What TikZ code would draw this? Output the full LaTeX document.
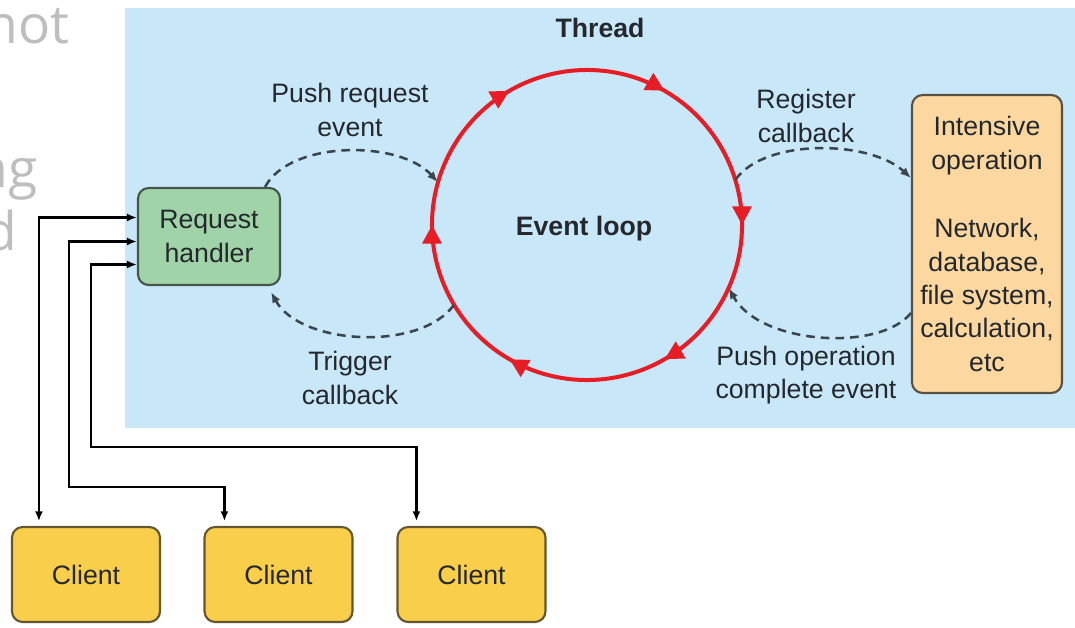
\documentclass[tikz,border=0pt]{standalone}
\usepackage{fontspec}
\setmainfont{Liberation Sans}
\newfontfamily\slidefont{Open Sans}
\usetikzlibrary{arrows.meta,decorations.markings,calc}

\definecolor{threadbg}{RGB}{200,232,250}
\definecolor{handlerfill}{RGB}{160,212,168}
\definecolor{handlerline}{RGB}{70,84,74}
\definecolor{opfill}{RGB}{252,216,160}
\definecolor{opline}{RGB}{88,80,66}
\definecolor{clientfill}{RGB}{248,206,74}
\definecolor{clientline}{RGB}{100,86,48}
\definecolor{loopred}{RGB}{232,28,36}
\definecolor{ink}{RGB}{36,40,44}
\definecolor{flowgray}{RGB}{60,68,76}
\definecolor{slidegray}{RGB}{190,190,190}

\newcommand\lblfont{\fontsize{20}{25}\selectfont}
\newcommand\looptip{\arrow{Triangle[length=14pt,width=14pt,color=loopred]}}

\begin{document}
\begin{tikzpicture}[x=0.75pt,y=-0.75pt,
  block/.style={rounded corners=8pt, line width=1.6pt, align=center,
    inner sep=0pt, font=\lblfont, text=ink},
  handlerbox/.style={block, fill=handlerfill, draw=handlerline,
    minimum width=106.5pt, minimum height=72.75pt},
  opbox/.style={block, fill=opfill, draw=opline,
    minimum width=112.5pt, minimum height=223.5pt},
  clientbox/.style={block, fill=clientfill, draw=clientline,
    minimum width=111pt, minimum height=71.25pt},
  lbl/.style={font=\lblfont, text=ink, align=center, inner sep=0pt},
  flow/.style={draw=flowgray, line width=1.9pt, dash pattern=on 6.5pt off 4.5pt,
    -{Latex[length=8pt,width=6.5pt]}},
  link/.style={draw=black, line width=1.9pt,
    {Latex[length=7.5pt,width=6pt]}-{Latex[length=7.5pt,width=6pt]}, shorten >=3.5pt},
  loopline/.style={draw=loopred, line width=3pt, postaction={decorate},
    decoration={markings,
      mark=at position 0.0833 with {\looptip},
      mark=at position 0.25 with {\looptip},
      mark=at position 0.4167 with {\looptip},
      mark=at position 0.5833 with {\looptip},
      mark=at position 0.75 with {\looptip},
      mark=at position 0.9167 with {\looptip}}},
  slide/.style={font=\slidefont\fontsize{40}{48}\selectfont, text=slidegray, inner sep=0pt}
]
\useasboundingbox (0,0) rectangle (1075,628);
\clip (0,0) rectangle (1075,628);

% fragments of the surrounding slide text
\node[slide, anchor=base east] (s1) at (70,43) {not};
\node[slide, anchor=base east] (s2) at (38,187) {ng};
\node[slide, anchor=base east] (s3) at (17,250) {d};

% thread area
\fill[threadbg] (125,8) rectangle (1075,428);
\node[lbl, font=\lblfont\bfseries] (thread) at (600,28) {Thread};

% boxes
\node[handlerbox] (rh) at (209,236.5) {Request\\handler};
\node[opbox] (op) at (987,244) {Intensive\\operation\\[26.5pt]Network,\\database,\\file system,\\calculation,\\etc};
\node[clientbox] (c1) at (86,574.5) {Client};
\node[clientbox] (c2) at (278.5,574.5) {Client};
\node[clientbox] (c3) at (471.5,574.5) {Client};

% event loop
\node[circle, inner sep=0pt, minimum size=232.5pt] (loop) at (587,225) {};
\node[lbl, font=\lblfont\bfseries] (looplabel) at (584,229) {Event loop};
\draw[loopline] ($(loop.center)+(150:116.25pt)$) arc[start angle=150, end angle=-210, radius=116.25pt];

% callback flows
\draw[flow] ($(rh.north east)+(-16,0)$) .. controls (290,140) and (400,140) .. (loop.164);
\draw[flow] (loop.211) .. controls (420,352) and (300,345) .. ($(rh.south east)+(-10,6)$);
\draw[flow] (loop.17) .. controls (765,138) and (870,140) .. ($(op.west)+(0,-66)$);
\draw[flow] ($(op.west)+(0,69)$) .. controls (880,352) and (760,345) .. (loop.-24);

% flow labels
\node[lbl] (l1) at (350,110) {Push request\\event};
\node[lbl] (l2) at (350,378) {Trigger\\callback};
\node[lbl] (l3) at (806,116) {Register\\callback};
\node[lbl] (l4) at (806,375) {Push operation\\complete event};

% client connections
\draw[link] ($(rh.west)+(0,-19)$) -| ($(c1.north west)+(28,0)$);
\draw[link] ($(rh.west)+(0,5)$) -| (69,487) -| ($(c2.north west)+(21,0)$);
\draw[link] ($(rh.west)+(0,28)$) -| (91,447) -| ($(c3.north west)+(20,0)$);
\end{tikzpicture}
\end{document}
